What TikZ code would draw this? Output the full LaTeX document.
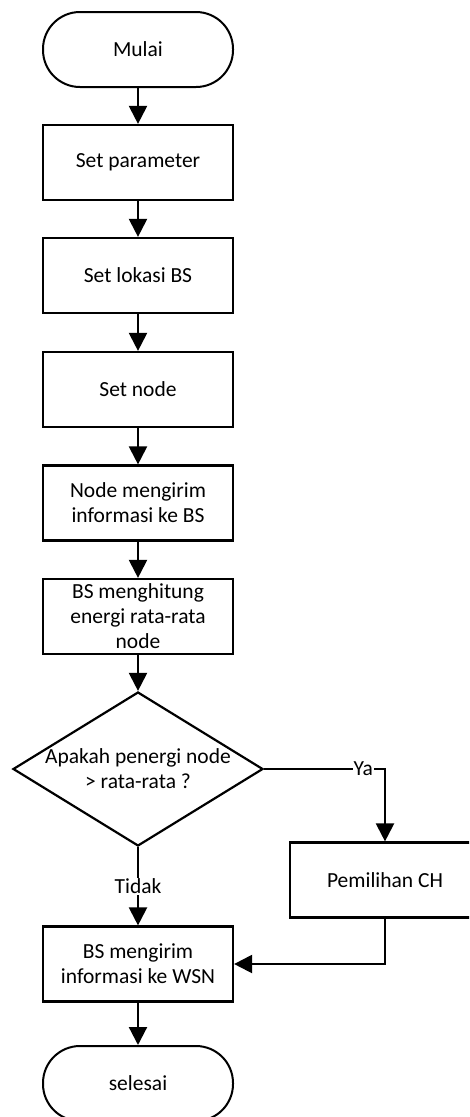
\documentclass[tikz,border=0pt]{standalone}
\usepackage{fontspec}
\setmainfont{Carlito}
\usetikzlibrary{shapes.geometric,arrows.meta}
\begin{document}
\begin{tikzpicture}[x=1pt,y=-1pt,
    font=\fontsize{21.5}{25}\selectfont,
    terminal/.style={draw,line width=2pt,rounded corners=37pt,minimum width=190pt,minimum height=75pt},
    process/.style={draw,line width=2.2pt,minimum width=190pt,minimum height=75pt,align=center,inner sep=1pt},
    decision/.style={draw,line width=2.2pt,diamond,minimum width=250pt,minimum height=154pt,inner sep=0pt},
    arrow/.style={line width=2.2pt,-{Triangle[length=18pt,width=18pt]}},
    lbl/.style={fill=white,inner sep=1pt}]
                    \useasboundingbox (0,0) rectangle (469,1117);
                    \clip (0,0) rectangle (469,1117);
                    %NODE
                    \node[terminal] (A) at (138,49.5){Mulai};
                    \node[process] (B) at (138,162.5){Set parameter};
                    \node[process] (C) at (138,275.5){Set lokasi BS};
                    \node[process] (D) at (138,389.5){Set node};
                    \node[process] (E) at (138,503){Node mengirim\\informasi ke BS};
                    \node[process] (F) at (138,616.5){BS menghitung\\energi rata-rata\\node};
                    \node[decision] (G) at (138,769){};
                    \node[align=center] (Gtext) at (G.center){Apakah penergi node\\> rata-rata ?};
                    \node[process] (H) at (385,880){Pemilihan CH};
                    \node[process] (I) at (138,964){BS mengirim\\informasi ke WSN};
                    \node[terminal] (J) at (138,1083.5){selesai};
                    
                    %EDGE
                    \draw[arrow] (A) -- (B);
                    \draw[arrow] (B) -- (C);
                    \draw[arrow] (C) -- (D);
                    \draw[arrow] (D) -- (E);
                    \draw[arrow] (E) -- (F);
                    \draw[arrow] (F) -- (G);
                    \draw[arrow] (G.east) -- node[lbl,pos=0.82]{Ya} (G.east -| H.north) -- (H.north);
                    \draw[arrow] (G.south) -- node[lbl]{Tidak} (I.north);
                    \draw[arrow] (H.south) |- (I.east);
                    \draw[arrow] (I) -- (J);
                \end{tikzpicture}
\end{document}
